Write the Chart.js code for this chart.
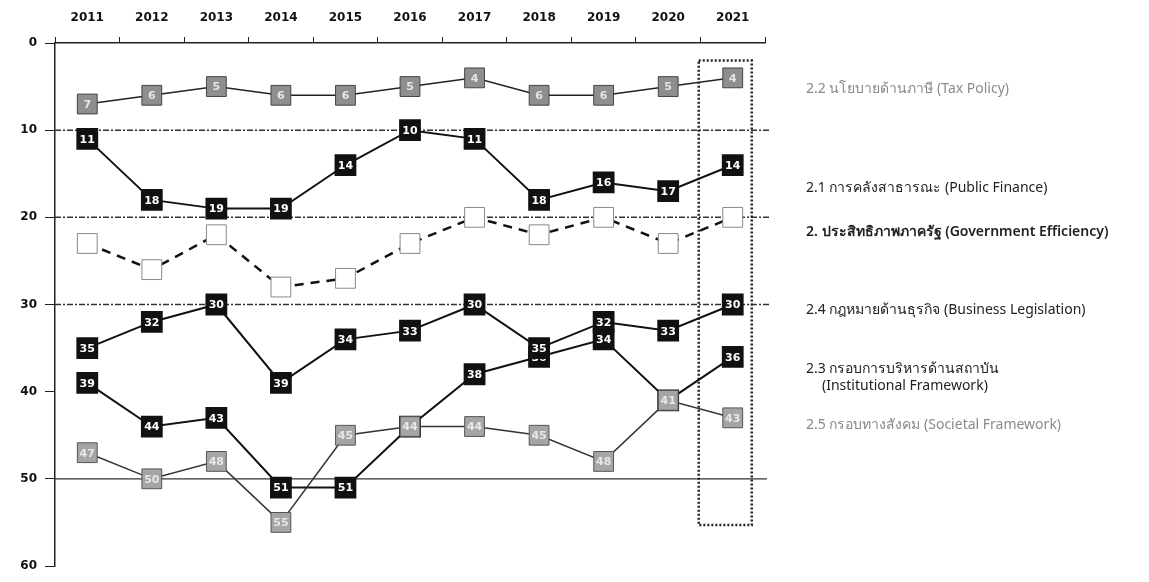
<!DOCTYPE html>
<html>
<head>
<meta charset="utf-8">
<script src="https://cdn.jsdelivr.net/npm/chart.js@4/dist/chart.umd.min.js"></script>
<style>
  body { margin: 0; background: #fff; }
  #wrap { position: relative; width: 1149px; height: 582px; }
  .note { position: absolute; left: 806px; font: 14px "Noto Sans", "DejaVu Sans", sans-serif; color: #222; white-space: nowrap; }
  .faded { color: #8a8a8a; }
  .strong { font-weight: 600; }
</style>
</head>
<body>
<div id="wrap">
  <canvas id="rankChart" width="1149" height="582"></canvas>
  <div class="note faded" style="top:77px">2.2 นโยบายด้านภาษี (Tax Policy)</div>
  <div class="note" style="top:176px">2.1 การคลังสาธารณะ (Public Finance)</div>
  <div class="note strong" style="top:220px">2. ประสิทธิภาพภาครัฐ (Government Efficiency)</div>
  <div class="note" style="top:298px">2.4 กฎหมายด้านธุรกิจ (Business Legislation)</div>
  <div class="note" style="top:357px">2.3 กรอบการบริหารด้านสถาบัน</div>
  <div class="note" style="top:375px;left:822px">(Institutional Framework)</div>
  <div class="note faded" style="top:413px">2.5 กรอบทางสังคม (Societal Framework)</div>
</div>
<script>
// ranks per year (lower = better, axis is reversed)
const years = ['2011', '2012', '2013', '2014', '2015', '2016', '2017', '2018', '2019', '2020', '2021'];
const taxPolicy = [7, 6, 5, 6, 6, 5, 4, 6, 6, 5, 4];
const publicFinance = [11, 18, 19, 19, 14, 10, 11, 18, 16, 17, 14];
const govEfficiency = [23, 26, 22, 28, 27, 23, 20, 22, 20, 23, 20];
const businessLegislation = [35, 32, 30, 39, 34, 33, 30, 35, 32, 33, 30];
const institutional = [39, 44, 43, 51, 51, 44, 38, 36, 34, 41, 36];
const societal = [47, 50, 48, 55, 45, 44, 44, 45, 48, 41, 43];
const yTicks = [0, 10, 20, 30, 40, 50, 60];
const dashedRefLines = [10, 20, 30];
const solidRefLines = [50];

const font = '"DejaVu Sans", Verdana, sans-serif';

// writes the rank inside each box, right after that dataset is drawn
const boxLabels = {
    id: 'boxLabels',
    afterDatasetDraw(chart, args) {
        const ds = chart.data.datasets[args.index];
        if (!ds.valueColor) return;
        const ctx = chart.ctx;
        ctx.save();
        ctx.font = 'bold 11px ' + font;
        ctx.fillStyle = ds.valueColor;
        ctx.textAlign = 'center';
        ctx.textBaseline = 'middle';
        args.meta.data.forEach((pt, i) => {
            ctx.fillText(String(ds.data[i]), pt.x, pt.y + 1);
        });
        ctx.restore();
    }
};

// horizontal reference lines and the dotted frame around 2021
const extras = {
    id: 'extras',
    beforeDatasetsDraw(chart) {
        const ctx = chart.ctx;
        const x = chart.scales.x, y = chart.scales.y;
        const area = chart.chartArea;
        ctx.save();
        ctx.strokeStyle = '#333';
        ctx.lineWidth = 1.5;
        ctx.setLineDash([6, 2, 2, 2]);
        dashedRefLines.forEach(v => {
            ctx.beginPath();
            ctx.moveTo(area.left, y.getPixelForValue(v));
            ctx.lineTo(area.right + 6, y.getPixelForValue(v));
            ctx.stroke();
        });
        ctx.setLineDash([]);
        ctx.lineWidth = 1.2;
        solidRefLines.forEach(v => {
            ctx.beginPath();
            ctx.moveTo(area.left, y.getPixelForValue(v));
            ctx.lineTo(area.right + 2, y.getPixelForValue(v));
            ctx.stroke();
        });
        // frame
        const cx = x.getPixelForValue(years.length - 1);
        ctx.setLineDash([2, 2]);
        ctx.lineWidth = 2.5;
        ctx.strokeStyle = '#222';
        ctx.strokeRect(cx - 34, y.getPixelForValue(2), 53, y.getPixelForValue(55.3) - y.getPixelForValue(2));
        ctx.restore();
    }
};

new Chart(document.getElementById('rankChart'), {
    type: 'line',
    data: {
        labels: years,
        datasets: [
            {
                label: 'Tax Policy',
                data: taxPolicy,
                borderColor: '#222',
                borderWidth: 1.5,
                pointStyle: 'rect',
                pointRadius: 14,
                pointBackgroundColor: '#8e8e8e',
                pointBorderColor: '#444',
                pointBorderWidth: 1,
                valueColor: '#e6e6e6'
            },
            {
                label: 'Public Finance',
                data: publicFinance,
                borderColor: '#111',
                borderWidth: 2,
                pointStyle: 'rect',
                pointRadius: 14,
                pointBackgroundColor: '#111',
                pointBorderColor: '#111',
                valueColor: '#fff'
            },
            {
                label: 'Business Legislation',
                data: businessLegislation,
                borderColor: '#111',
                borderWidth: 2,
                pointStyle: 'rect',
                pointRadius: 14,
                pointBackgroundColor: '#111',
                pointBorderColor: '#111',
                valueColor: '#fff'
            },
            {
                label: 'Societal Framework',
                data: societal,
                borderColor: '#333',
                borderWidth: 1.5,
                pointStyle: 'rect',
                pointRadius: 14,
                pointBackgroundColor: '#a5a5a5',
                pointBorderColor: '#555',
                pointBorderWidth: 1,
                valueColor: '#e8e8e8'
            },
            {
                label: 'Institutional Framework',
                data: institutional,
                borderColor: '#111',
                borderWidth: 2,
                pointStyle: 'rect',
                pointRadius: 14,
                pointBackgroundColor: '#111',
                pointBorderColor: '#111',
                valueColor: '#fff'
            },
            {
                label: 'Government Efficiency',
                data: govEfficiency,
                borderColor: '#111',
                borderWidth: 2.5,
                borderDash: [9, 7],
                pointStyle: 'rect',
                pointRadius: 14,
                pointBackgroundColor: '#fff',
                pointBorderColor: '#888',
                pointBorderWidth: 1
            }
        ]
    },
    options: {
        responsive: false,
        animation: false,
        layout: { padding: { left: 0, top: 0, right: 384, bottom: 7 } },
        plugins: {
            legend: { display: false },
            tooltip: { enabled: false }
        },
        scales: {
            x: {
                position: 'top',
                offset: true,
                afterFit: s => { s.height = 43; },
                grid: {
                    offset: true,
                    drawOnChartArea: false,
                    tickLength: 6,
                    color: '#222'
                },
                border: { color: '#222', width: 1.5 },
                ticks: {
                    padding: 12,
                    color: '#111',
                    font: { family: font, size: 12, weight: 'bold' }
                }
            },
            y: {
                reverse: true,
                min: 0,
                max: 60,
                afterFit: s => { s.width = 55; },
                afterBuildTicks: s => { s.ticks = yTicks.map(v => ({ value: v })); },
                grid: {
                    drawOnChartArea: false,
                    tickLength: 10,
                    color: '#222'
                },
                border: { color: '#222', width: 1.5 },
                ticks: {
                    padding: 8,
                    color: '#111',
                    font: { family: font, size: 12, weight: 'bold' }
                }
            }
        }
    },
    plugins: [extras, boxLabels]
});
</script>
</body>
</html>
